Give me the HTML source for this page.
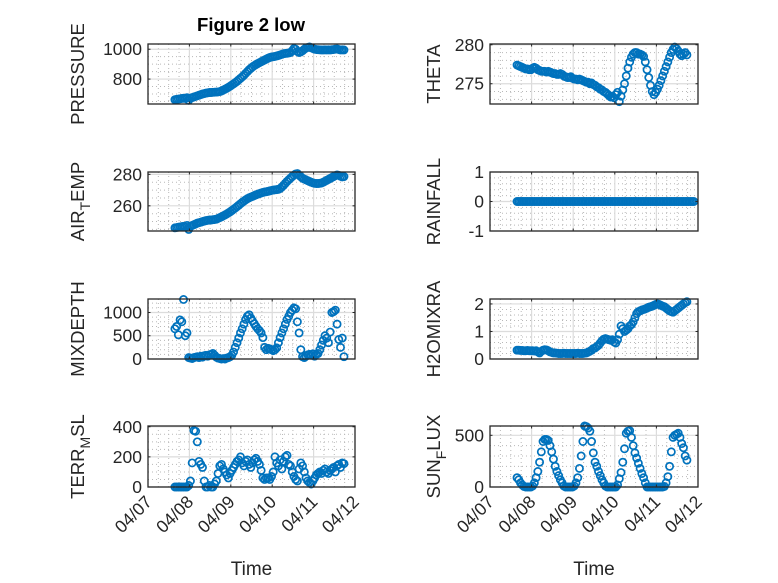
<!DOCTYPE html>
<html><head><meta charset="utf-8">
<style>
html,body{margin:0;padding:0;background:#fff;}
svg{display:block;font-family:"Liberation Sans",sans-serif;}
</style></head>
<body>
<svg id="fig" width="778" height="583" viewBox="0 0 778 583" xmlns="http://www.w3.org/2000/svg">
<rect x="0" y="0" width="778" height="583" fill="#ffffff"/>
<text x="251" y="31" text-anchor="middle" font-size="18.5" font-weight="bold" fill="#000">Figure 2 low</text>
</svg>
<script>
// Time: hourly samples starting 0.65 days after 04/07 00:00
const tStart = 0.65;
const tStep = 1/24;
const xTickLabels = ["04/07","04/08","04/09","04/10","04/11","04/12"];

const pressure = [662,664,666,668,670,672,670,675,658,
672,676,680,684,688,692,696,700,703,706,708,710,
710,711,712,713,714,716,720,726,732,738,745,752,
760,768,776,785,795,805,815,826,838,850,862,872,
882,890,897,904,910,916,922,928,934,940,945,948,
950,952,955,958,962,966,970,972,973,975,978,990,
1005,1000,985,978,982,990,1000,1008,1012,1015,1010,1005,
1000,998,997,996,995,995,996,995,996,995,997,998,1000,1002,998,995,996,995];

const theta = [277.4,277.3,277.2,277.1,277.0,276.9,276.9,276.8,276.8,
277.0,277.1,277.0,276.8,276.7,276.6,276.6,276.6,276.5,276.6,276.5,276.4,
276.3,276.3,276.2,276.2,276.3,276.2,276.0,275.9,275.8,275.8,275.9,275.7,
275.6,275.6,275.5,275.6,275.5,275.4,275.3,275.2,275.2,275.0,275.1,274.9,
274.8,274.6,274.5,274.3,274.2,274.0,273.9,273.7,273.5,273.3,273.4,273.2,
273.6,273.9,272.7,273.4,274.2,275.0,276.0,277.0,277.8,278.4,278.8,279.0,
279.0,278.8,278.8,278.7,278.5,277.8,276.8,275.8,274.8,274.0,273.6,273.9,
274.3,274.8,275.4,276.0,276.6,277.2,277.8,278.4,279.0,279.4,279.7,279.5,279.2,278.8,278.6,278.8,279.0,278.7];

const airTemp = [246,246.2,246.4,246.6,246.8,247,246.5,247.5,245,
247,247.5,248,248.5,249,249.3,249.6,250,250.3,250.6,250.8,251,
251,251.2,251.3,251.5,252,252.5,253,253.6,254.2,254.8,255.5,256.2,
257,257.8,258.6,259.5,260.4,261.3,262.2,263,263.8,264.5,265.1,265.6,
266,266.5,267,267.4,267.8,268.2,268.5,268.8,269,269.2,269.5,269.8,
270,270.2,270.3,270.5,271,272,273,274.3,275.5,276.6,277.6,278.6,
279.5,280.3,280.5,279.5,278.5,277.5,277,276.5,276,275.5,275,274.6,
274.3,274.2,274.2,274.3,274.5,275,275.6,276.2,276.8,277.4,278,278.6,279.2,279.6,279.4,278.8,278.4,278.6];

const rainfall = [0,0,0,0,0,0,0,0,0,0,0,0,0,0,0,0,0,0,0,0,0,0,0,0,0,0,0,0,0,0,0,0,0,
0,0,0,0,0,0,0,0,0,0,0,0,0,0,0,0,0,0,0,0,0,0,0,0,0,0,0,0,0,0,0,0,0,0,0,0,0,0,
0,0,0,0,0,0,0,0,0,0,0,0,0,0,0,0,0,0,0,0,0,0,0,0,0,0,0,0,0,0,0,0];

const mixDepth = [650,700,520,840,800,1280,500,560,30,
20,10,30,40,50,30,60,40,70,80,60,90,
100,120,80,40,20,10,0,10,0,20,30,50,
80,150,250,350,450,560,650,750,850,920,950,880,
820,760,700,650,610,560,460,250,200,230,220,200,
180,200,240,350,460,560,650,750,850,920,1000,1050,
1100,1080,800,560,200,50,30,60,90,100,80,110,
60,100,120,200,300,400,500,450,350,580,1000,1020,1050,750,420,250,450,50];

const h2oMix = [0.32,0.32,0.31,0.31,0.3,0.3,0.31,0.3,0.3,
0.3,0.29,0.3,0.26,0.22,0.28,0.32,0.34,0.33,0.3,0.26,0.24,
0.22,0.22,0.21,0.2,0.2,0.2,0.21,0.2,0.2,0.2,0.2,0.2,
0.2,0.2,0.21,0.2,0.2,0.2,0.21,0.22,0.25,0.28,0.32,0.38,
0.4,0.45,0.5,0.58,0.66,0.72,0.74,0.72,0.7,0.68,0.7,0.62,
0.58,0.7,0.9,1.2,1.1,1.0,1.05,1.1,1.2,1.25,1.35,1.5,
1.65,1.72,1.75,1.78,1.8,1.82,1.85,1.88,1.9,1.92,1.95,1.98,
2.0,1.98,1.95,1.92,1.9,1.85,1.8,1.75,1.72,1.7,1.75,1.8,1.85,1.9,1.95,2.0,2.05,2.08];

const terrMsl = [0,0,0,0,0,0,0,0,10,
40,160,375,370,300,170,150,130,40,0,0,10,
0,0,20,40,90,140,150,120,100,80,60,90,
110,130,150,170,180,200,160,140,170,180,150,130,
160,180,190,170,150,110,60,50,60,60,50,70,
100,200,160,140,180,120,170,200,210,150,140,100,
70,50,40,120,160,140,100,60,40,30,20,40,
60,80,90,100,90,110,120,100,90,110,120,130,100,140,150,130,160,155];

const sunFlux = [90,70,40,20,5,0,0,0,0,
10,40,90,150,240,340,440,460,460,450,400,340,
270,200,150,110,70,40,10,0,0,0,0,0,
10,40,90,180,300,440,590,585,570,540,440,330,
240,200,150,110,70,40,10,0,0,0,0,0,
0,20,80,140,240,370,520,540,545,480,400,330,
280,230,180,130,90,40,0,0,0,0,0,0,
0,0,0,0,5,40,100,200,340,480,500,510,520,480,420,380,300,260];

const pressureTicks = [800,1000];
const thetaTicks = [275,280];
const airTicks = [260,280];
const rainTicks = [-1,0,1];
const mixTicks = [0,500,1000];
const h2oTicks = [0,1,2];
const terrTicks = [0,200,400];
const sunTicks = [0,500];

const NS = "http://www.w3.org/2000/svg";
const svg = document.getElementById('fig');
function mk(tag, attrs, parent){
  const e = document.createElementNS(NS, tag);
  for (const k in attrs) e.setAttribute(k, attrs[k]);
  (parent||svg).appendChild(e);
  return e;
}

const cols = [{x0:148, x1:355}, {x0:490, x1:698}];
const rows = [{y0:44, y1:104}, {y0:172, y1:231}, {y0:299, y1:359}, {y0:426, y1:487}];

const panels = [
  {key:'pressure', data:pressure, ticks:pressureTicks, ymin:633, ymax:1035, minor:50, c:0, r:0, label:['PRESSURE']},
  {key:'theta', data:theta, ticks:thetaTicks, ymin:272.4, ymax:280.1, minor:1, c:1, r:0, label:['THETA']},
  {key:'air-temp', data:airTemp, ticks:airTicks, ymin:244, ymax:281.5, minor:5, c:0, r:1, label:['AIR','T','EMP']},
  {key:'rainfall', data:rainfall, ticks:rainTicks, ymin:-1, ymax:1, minor:0.2, c:1, r:1, label:['RAINFALL']},
  {key:'mixdepth', data:mixDepth, ticks:mixTicks, ymin:0, ymax:1290, minor:100, c:0, r:2, label:['MIXDEPTH']},
  {key:'h2omixra', data:h2oMix, ticks:h2oTicks, ymin:0, ymax:2.18, minor:0.2, c:1, r:2, label:['H2OMIXRA']},
  {key:'terr-msl', data:terrMsl, ticks:terrTicks, ymin:0, ymax:405, minor:50, c:0, r:3, label:['TERR','M','SL']},
  {key:'sun-flux', data:sunFlux, ticks:sunTicks, ymin:0, ymax:590, minor:100, c:1, r:3, label:['SUN','F','LUX']}
];

panels.forEach(p => {
  const {x0,x1} = cols[p.c], {y0,y1} = rows[p.r];
  const xs = d => x0 + (x1-x0)*d/5;
  const ys = v => y1 - (y1-y0)*(v-p.ymin)/(p.ymax-p.ymin);
  const g = mk('g', {});
  
  
  mk('rect', {x:x0, y:y0, width:x1-x0, height:y1-y0, fill:'#fff'}, g);
  for (let q=0.25; q<5; q+=0.25){
    if (Math.abs(q-Math.round(q))<1e-6) continue;
    mk('line', {x1:xs(q), x2:xs(q), y1:y0, y2:y1, stroke:'#b8b8b8', 'stroke-width':1, 'stroke-dasharray':'1,3'}, g);
  }
  const start = Math.ceil(p.ymin/p.minor)*p.minor;
  for (let v=start; v<=p.ymax+1e-9; v+=p.minor){
    if (p.ticks.some(t=>Math.abs(t-v)<1e-6)) continue;
    mk('line', {x1:x0, x2:x1, y1:ys(v), y2:ys(v), stroke:'#b8b8b8', 'stroke-width':1, 'stroke-dasharray':'1,3'}, g);
  }
  for (let d=1; d<5; d++) mk('line', {x1:xs(d), x2:xs(d), y1:y0, y2:y1, stroke:'#dcdcdc', 'stroke-width':1.2}, g);
  p.ticks.forEach(t => mk('line', {x1:x0, x2:x1, y1:ys(t), y2:ys(t), stroke:'#dcdcdc', 'stroke-width':1.2}, g));
  const sg = mk('g', {fill:'none', stroke:'#0072BD', 'stroke-width':1.7}, g);
  
  
  p.data.forEach((v,i) => {
    const c = mk('circle', {cx:xs(tStart + i*tStep).toFixed(2), cy:ys(v).toFixed(2), r:3.6}, sg);
    
    
  });
  mk('rect', {x:x0, y:y0, width:x1-x0, height:y1-y0, fill:'none', stroke:'#262626', 'stroke-width':1.3}, g);
  for (let d=0; d<=5; d++){
    mk('line', {x1:xs(d), x2:xs(d), y1:y1, y2:y1-2.5, stroke:'#262626'}, g);
    mk('line', {x1:xs(d), x2:xs(d), y1:y0, y2:y0+2.5, stroke:'#262626'}, g);
  }
  p.ticks.forEach(t => {
    mk('line', {x1:x0, x2:x0+2.5, y1:ys(t), y2:ys(t), stroke:'#262626'}, g);
    mk('line', {x1:x1, x2:x1-2.5, y1:ys(t), y2:ys(t), stroke:'#262626'}, g);
    const tx = mk('text', {x:x0-6, y:ys(t)+6, 'text-anchor':'end', 'font-size':17.5, fill:'#262626'}, g);
    
    
    tx.textContent = String(t);
  });
  const cy = (y0+y1)/2;
  const yl = mk('text', {x:0, y:0, 'text-anchor':'middle', 'font-size':18.5, fill:'#262626', transform:`translate(${p.c===0?84:440},${cy}) rotate(-90)`}, g);
  
  
  if (p.label.length === 1) yl.textContent = p.label[0];
  else {
    const a = mk('tspan', {}, yl); a.textContent = p.label[0];
    const b = mk('tspan', {dy:6, 'font-size':14}, yl); b.textContent = p.label[1];
    const c2 = mk('tspan', {dy:-6}, yl); c2.textContent = p.label[2];
  }
  if (p.r === 3){
    xTickLabels.forEach((lab,d) => {
      const tx = mk('text', {x:0, y:0, 'text-anchor':'end', 'font-size':17.5, fill:'#262626', transform:`translate(${xs(d)+5},${y1+16}) rotate(-45)`}, g);
      
      
      tx.textContent = lab;
    });
    const xt = mk('text', {x:(x0+x1)/2, y:575, 'text-anchor':'middle', 'font-size':19, fill:'#262626'}, g);
    
    
    xt.textContent = 'Time';
  }
});
</script>
</body></html>
